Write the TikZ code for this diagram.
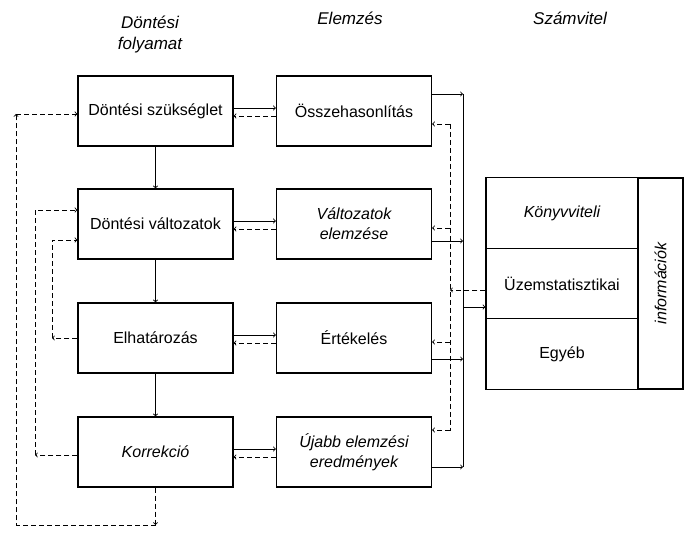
\documentclass[tikz,border=0pt]{standalone}
\usepackage{fontspec}
\setmainfont{Liberation Sans}
\begin{document}
\begin{tikzpicture}[x=1pt,y=-1pt,
box/.style ={rectangle, draw, line width=1.2pt,
  minimum width=155pt, minimum height=70pt, inner sep=2pt,
  align=center, font=\fontsize{16}{20}\selectfont
},
ibox/.style ={box, font=\itshape\fontsize{16}{20}\selectfont},
row/.style ={rectangle, draw, line width=1.2pt,
  minimum width=152pt, minimum height=70.5pt,
  font=\fontsize{16}{20}\selectfont
},
head/.style ={align=center, font=\itshape\fontsize{17}{21}\selectfont},
flow/.style ={->, line width=0.9pt},
back/.style ={->, line width=0.9pt, dash pattern=on 5pt off 3pt}
]
\useasboundingbox (0,0) rectangle (686,534);

% headers
\node (h1) at (150,35) [head] {Döntési\\folyamat};
\node (h2) at (350,18) [head] {Elemzés};
\node (h3) at (570,18) [head] {Számvitel};

% decision process
\node (dsz) at (155.5,111) [box] {Döntési szükséglet};
\node (dva) at (155.5,224) [box] {Döntési változatok};
\node (elh) at (155.5,338) [box] {Elhatározás};
\node (kor) at (155.5,452) [ibox] {Korrekció};

% analysis
\node (oss) at (354,111) [box] {Összehasonlítás};
\node (vel) at (354,224) [ibox] {Változatok\\elemzése};
\node (ert) at (354,338) [box] {Értékelés};
\node (uje) at (354,452) [ibox] {Újabb elemzési\\eredmények};

% accounting
\node (kon) at (562,213) [row] {\itshape Könyvviteli};
\node (uzem) at (562,283.5) [row] {Üzemstatisztikai};
\node (egy) at (562,354) [row] {Egyéb};
\node (inf) at (660.5,283.5) [row, rotate=90, minimum width=211pt,
  minimum height=45pt] {\itshape információk};

\foreach \a/\b in {dsz/oss,dva/vel,elh/ert,kor/uje}{
  \draw[flow] ([yshift=3pt]\a.east) -- ([yshift=3pt]\b.west);
  \draw[back] ([yshift=-5pt]\b.west) -- ([yshift=-5pt]\a.east);
}
\foreach \a/\b in {dsz/dva,dva/elh,elh/kor}
  \draw[flow] (\a.south) -- (\b.north);

% feedback loops
\coordinate (lo1) at (16,525);
\coordinate (lo2) at (16,114);
\draw[back] (kor.south) -- (kor.south |- lo1);
\draw[back] (kor.south |- lo1) -- (lo1) -- (lo2);
\draw[back] (lo2) -- (lo2 -| dsz.west);

\coordinate (lm1) at (35,455);
\coordinate (lm2) at (35,210);
\draw[back] (lm1 -| kor.west) -- (lm1);
\draw[back] (lm1) -- (lm2) -- (lm2 -| dva.west);

\coordinate (li1) at (52,338);
\coordinate (li2) at (52,240);
\draw[back] (li1 -| elh.west) -- (li1);
\draw[back] (li1) -- (li2) -- (li2 -| dva.west);

% information lines
\coordinate (rvt) at (463,94);
\coordinate (rvb) at (463,467);
\draw[line width=0.9pt] (rvt) -- (rvb);
\foreach \b/\s in {oss/17,vel/-17,ert/-21,uje/-15}
  \draw[flow] ([yshift=\s pt]\b.east) -- ([yshift=\s pt]\b.east -| rvt);
\coordinate (ri) at (463,307);
\draw[flow] (ri) -- (ri -| uzem.west);

\coordinate (dvt) at (450,124);
\coordinate (dvb) at (450,431);
\draw[back,-] (dvt) -- (dvb);
\coordinate (di) at (450,290);
\draw[back] (di -| uzem.west) -- (di);
\foreach \b/\s in {oss/-13,vel/-4,ert/-4,uje/22}
  \draw[back] ([yshift=\s pt]\b.east -| dvt) -- ([yshift=\s pt]\b.east);

\end{tikzpicture}
\end{document}
